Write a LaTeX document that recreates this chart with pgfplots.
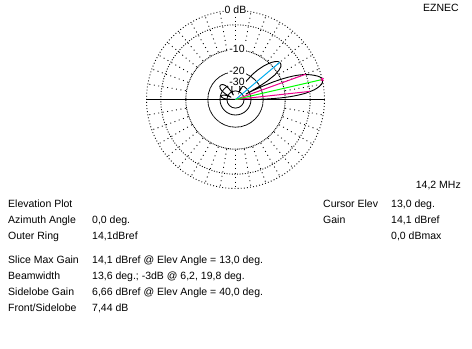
\documentclass[border=0pt]{standalone}
\usepackage{fontspec}
\setmainfont{Liberation Sans}
\usepackage{pgfplots}
\pgfplotsset{compat=1.18}
\usepackage{pgfplotstable}

% elevation pattern: angle (deg), attenuation below maximum (dB)
\pgfplotstableread{
ang att
0 200
0.5 23.5
1 17.5
1.5 14.3
2 11.6
3 8.2
4 5.9
5 4.2
6 3.0
7 2.0
8 1.3
9 0.75
10 0.35
11 0.1
12 0
13 0
14 0.1
15 0.35
16 0.75
17 1.3
18 1.9
19 2.6
20 3.4
21 4.5
22 5.9
23 7.7
24 10.0
25 13.2
26 18
27 26
27.5 35
28 28
29 20
30 15.5
32 11.2
34 9.1
36 7.9
38 7.5
40 7.44
42 7.7
44 8.4
46 9.4
48 10.7
50 12.2
53 15
56 18.5
60 25
62 30
64 40
66 37
70 33
75 31
80 30
85 29.6
90 29.5
95 29.7
100 30.5
105 32
110 36
114 42
116 50
118 40
122 32
126 28
130 26
134 25.2
137 25
140 25.3
144 26.5
148 29.5
151 35
153 50
155 40
158 35
162 32
166 31
170 31.5
174 34
177 39
180 200
}\patterntab

\begin{document}
\begin{tikzpicture}[
  t/.style={font=\fontsize{10.5bp}{12.6bp}\selectfont, inner sep=0pt, anchor=base west},
  tr/.style={font=\fontsize{10.5bp}{12.6bp}\selectfont, inner sep=0pt, anchor=base east},
  rl/.style={font=\fontsize{10.5bp}{12.6bp}\selectfont, inner sep=1pt, fill=white, anchor=center}]
\begin{axis}[at={(0,0)}, anchor=south west, scale only axis,
  width=472bp, height=349bp, xmin=0, xmax=472, ymin=0, ymax=349,
  y dir=reverse, hide axis, clip=false]
\fill[white] (axis cs:0,0) rectangle (axis cs:472,349);
% rings
\draw[line width=0.9bp, dash pattern=on 0.9bp off 2.2bp] (axis cs:235.5,99.5) circle[radius=89bp];
\draw[line width=0.9bp, dash pattern=on 0.9bp off 1.7bp] (axis cs:235.5,99.5) circle[radius=74.7bp];
\draw[line width=0.9bp, dash pattern=on 0.9bp off 0.9bp] (axis cs:235.5,99.5) circle[radius=49.7bp];
\draw[line width=0.8bp, dash pattern=on 1.2bp off 0.4bp] (axis cs:235.5,99.5) circle[radius=27.7bp];
\draw[line width=0.8bp] (axis cs:235.5,99.5) circle[radius=15.5bp];
\draw[line width=0.8bp] (axis cs:235.5,99.5) circle[radius=8.6bp];
% radials
\pgfplotsinvokeforeach{10,20,...,170,190,200,...,350}{
  \draw[line width=0.9bp, dash pattern=on 0.9bp off 3.6bp] (axis cs:235.5,99.5) ++(#1:50.5bp) -- ++(#1:38.5bp);
}
% horizon
\addplot[black, line width=1.3bp] coordinates {(146,99.5) (325,99.5)};
% pattern
\addplot[black, line width=0.9bp] table[
  x expr={235.5+89*(0.89^(\thisrow{att}/2))*cos(\thisrow{ang})},
  y expr={99.5-89*(0.89^(\thisrow{att}/2))*sin(\thisrow{ang})}] {\patterntab};
% cursor lines
\addplot[magenta, line width=1bp] coordinates {(235.5,99.5) (309.8,91.4)};
\addplot[magenta, line width=1bp] coordinates {(235.5,99.5) (305.8,74.2)};
\addplot[cyan, line width=1bp] coordinates {(235.5,99.5) (279.7,62.4)};
\addplot[green, line width=1bp] coordinates {(235.5,99.5) (322.2,79.5)};
\addplot[magenta, only marks, mark=x, mark size=1.8bp, line width=1bp] coordinates {(322.2,79.5)};
% ring labels
\node[rl] at (axis cs:235.5,10) {0 dB};
\node[rl] at (axis cs:237,49) {-10};
\node[rl] at (axis cs:237,71) {-20};
\node[rl] at (axis cs:237,81.5) {-30};
% texts
\node[tr] at (axis cs:459,12) {EZNEC};
\node[tr] at (axis cs:461,188) {14,2 MHz};
\node[t] at (axis cs:8,207) {Elevation Plot};
\node[t] at (axis cs:8,223) {Azimuth Angle};
\node[t] at (axis cs:92,223) {0,0 deg.};
\node[t] at (axis cs:8,239) {Outer Ring};
\node[t] at (axis cs:92,239) {14,1dBref};
\node[t] at (axis cs:8,263) {Slice Max Gain};
\node[t] at (axis cs:92,263) {14,1 dBref @ Elev Angle = 13,0 deg.};
\node[t] at (axis cs:8,279) {Beamwidth};
\node[t] at (axis cs:92,279) {13,6 deg.; -3dB @ 6,2, 19,8 deg.};
\node[t] at (axis cs:8,295) {Sidelobe Gain};
\node[t] at (axis cs:92,295) {6,66 dBref @ Elev Angle = 40,0 deg.};
\node[t] at (axis cs:8,311) {Front/Sidelobe};
\node[t] at (axis cs:92,311) {7,44 dB};
\node[t] at (axis cs:323,207) {Cursor Elev};
\node[t] at (axis cs:391,207) {13,0 deg.};
\node[t] at (axis cs:323,223) {Gain};
\node[t] at (axis cs:391,223) {14,1 dBref};
\node[t] at (axis cs:391,239) {0,0 dBmax};
\end{axis}
\end{tikzpicture}
\end{document}
